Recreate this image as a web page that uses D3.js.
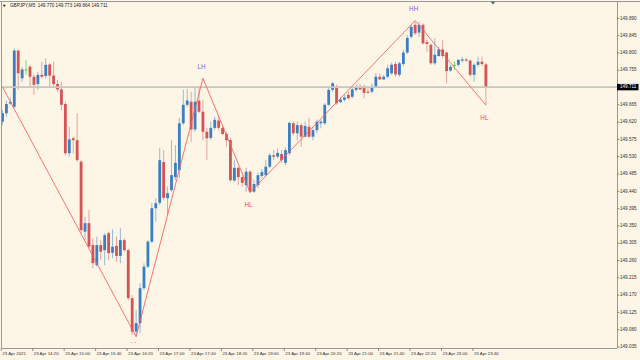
<!DOCTYPE html>
<html><head><meta charset="utf-8">
<script src="https://cdn.jsdelivr.net/npm/d3@7"></script>
<style>html,body{margin:0;padding:0;background:#fdf5e6;overflow:hidden}svg{display:block}</style>
</head><body><svg id="c" width="640" height="360"></svg>
<script>
const symbol = "GBPJPY,M5";
const headerValues = ["149.770", "149.773", "149.664", "149.711"];
const timeLabels = ["23 Apr 2021","23 Apr 14:20","23 Apr 15:00","23 Apr 15:40","23 Apr 16:20","23 Apr 17:00","23 Apr 17:40","23 Apr 18:20","23 Apr 19:00","23 Apr 19:40","23 Apr 20:20","23 Apr 21:00","23 Apr 21:40","23 Apr 22:20","23 Apr 23:00","23 Apr 23:40"];
const labelBars = [0,8,16,24,32,40,48,56,64,72,80,88,96,104,112,120];
const priceTicks = [149.890,149.845,149.800,149.755,149.710,149.665,149.620,149.575,149.530,149.485,149.440,149.395,149.350,149.305,149.260,149.215,149.170,149.125,149.080,149.035];
const lastPrice = 149.711;

const open = [
149.621,149.643,149.668,149.660,149.806,149.734,149.757,149.764,149.738,149.719,
149.743,149.740,149.770,149.741,149.719,149.705,149.667,149.539,149.578,149.573,
149.517,149.335,149.357,149.300,149.248,149.300,149.287,149.331,149.280,149.298,
149.272,149.313,149.287,149.162,149.075,149.097,149.188,149.244,149.309,149.396,
149.410,149.516,149.422,149.443,149.477,149.495,149.617,149.665,149.673,149.601,
149.676,149.647,149.595,149.579,149.605,149.624,149.605,149.589,149.573,149.468,
149.501,149.477,149.456,149.491,149.439,149.456,149.480,149.482,149.504,149.534,
149.530,149.537,149.514,149.539,149.617,149.591,149.612,149.582,149.608,149.582,
149.599,149.617,149.617,149.665,149.704,149.712,149.672,149.678,149.691,149.686,
149.704,149.711,149.712,149.699,149.699,149.712,149.738,149.731,149.738,149.747,
149.771,149.743,149.771,149.801,149.842,149.873,149.853,149.873,149.828,149.821,
149.773,149.792,149.809,149.801,149.754,149.769,149.769,149.780,149.783,149.780,
149.743,149.769,149.777,149.770];
const high = [
149.651,149.676,149.683,149.812,149.808,149.764,149.782,149.769,149.743,149.751,
149.777,149.786,149.773,149.777,149.730,149.725,149.673,149.608,149.582,149.643,
149.521,149.374,149.391,149.318,149.322,149.313,149.331,149.335,149.341,149.322,
149.344,149.318,149.290,149.170,149.131,149.201,149.253,149.313,149.409,149.422,
149.552,149.547,149.452,149.573,149.560,149.631,149.704,149.706,149.699,149.709,
149.712,149.678,149.605,149.621,149.634,149.634,149.612,149.595,149.579,149.521,
149.504,149.482,149.501,149.495,149.469,149.488,149.498,149.521,149.539,149.547,
149.552,149.547,149.555,149.621,149.621,149.621,149.617,149.621,149.631,149.606,
149.626,149.626,149.669,149.712,149.725,149.717,149.685,149.691,149.699,149.712,
149.717,149.719,149.717,149.708,149.721,149.747,149.747,149.743,149.769,149.775,
149.777,149.777,149.808,149.847,149.873,149.881,149.881,149.877,149.835,149.825,
149.838,149.816,149.834,149.803,149.769,149.777,149.783,149.790,149.786,149.783,
149.773,149.790,149.790,149.773];
const low = [
149.612,149.634,149.665,149.656,149.704,149.725,149.743,149.712,149.691,149.704,
149.734,149.734,149.712,149.708,149.699,149.651,149.534,149.530,149.539,149.517,
149.331,149.313,149.292,149.240,149.244,149.261,149.248,149.261,149.266,149.257,
149.253,149.283,149.157,149.066,149.062,149.071,149.183,149.240,149.305,149.361,
149.404,149.417,149.378,149.439,149.469,149.475,149.612,149.659,149.569,149.595,
149.644,149.573,149.521,149.573,149.599,149.599,149.586,149.556,149.465,149.465,
149.456,149.452,149.439,149.436,149.436,149.449,149.475,149.478,149.500,149.521,
149.526,149.514,149.508,149.534,149.586,149.573,149.556,149.581,149.579,149.573,
149.591,149.604,149.612,149.662,149.699,149.665,149.669,149.673,149.678,149.682,
149.699,149.704,149.682,149.695,149.695,149.708,149.730,149.730,149.734,149.743,
149.738,149.738,149.766,149.797,149.838,149.847,149.842,149.821,149.803,149.769,
149.769,149.790,149.786,149.721,149.751,149.756,149.764,149.775,149.777,149.738,
149.725,149.764,149.766,149.664];
const close = [
149.643,149.667,149.672,149.806,149.747,149.757,149.757,149.738,149.717,149.743,
149.738,149.769,149.741,149.719,149.705,149.665,149.539,149.575,149.573,149.521,
149.339,149.357,149.296,149.253,149.300,149.283,149.326,149.279,149.296,149.272,
149.313,149.287,149.162,149.075,149.097,149.188,149.244,149.309,149.396,149.409,
149.521,149.423,149.435,149.482,149.514,149.617,149.665,149.676,149.601,149.673,
149.647,149.595,149.578,149.605,149.626,149.605,149.589,149.573,149.469,149.501,
149.477,149.462,149.491,149.439,149.459,149.482,149.490,149.504,149.534,149.530,
149.540,149.521,149.547,149.618,149.591,149.612,149.582,149.610,149.582,149.599,
149.621,149.621,149.665,149.704,149.721,149.669,149.679,149.684,149.682,149.705,
149.710,149.705,149.696,149.696,149.712,149.738,149.731,149.738,149.760,149.769,
149.744,149.773,149.801,149.839,149.868,149.851,149.873,149.825,149.823,149.773,
149.795,149.809,149.792,149.753,149.764,149.769,149.782,149.783,149.780,149.743,
149.769,149.777,149.771,149.711];

const zigBars = [0, 34, 51, 63, 105, 123];
const zigPrices = [149.711, 149.062, 149.734, 149.437, 149.884, 149.664];
const zigLabels = ["", "LL", "LH", "HL", "HH", "HL"];

const W = 640, H = 360;
const plot = {left: 2, top: 2, right: 617, bottom: 348};
const bars = open.map((o, i) => ({i, o, h: high[i], l: low[i], c: close[i]}));

const x = d3.scaleLinear().domain([0, bars.length - 1]).range([2.5, 485.9]);
const y = d3.scaleLinear().domain([149.890, 149.035]).range([18.3, 347]);

const svg = d3.select("#c");
svg.append("rect").attr("width", W).attr("height", H).attr("fill", "#fdf5e6");

const defs = svg.append("defs");
defs.append("clipPath").attr("id", "plotclip").append("rect")
  .attr("x", plot.left).attr("y", plot.top)
  .attr("width", plot.right - plot.left).attr("height", 343 - plot.top);

const FONT = "'Liberation Sans', Arial, sans-serif";
const BLUE = "#3a7ec3", RED = "#d65353", DOJI = "#3fd63f";

// frame
const frame = svg.append("g").attr("fill", "none").attr("stroke", "#9a9a9a").attr("shape-rendering", "crispEdges");
frame.append("line").attr("x1", 1.5).attr("x2", 1.5).attr("y1", plot.top).attr("y2", plot.bottom).attr("stroke-width", 1.5);
frame.append("line").attr("x1", 0).attr("x2", W).attr("y1", 1.5).attr("y2", 1.5);
frame.append("line").attr("x1", plot.right + 0.5).attr("x2", plot.right + 0.5).attr("y1", plot.top).attr("y2", plot.bottom);
frame.append("line").attr("x1", plot.left).attr("x2", plot.right).attr("y1", plot.bottom + 0.5).attr("y2", plot.bottom + 0.5);

// shift marker
svg.append("path").attr("d", d3.line()([[490.5, 1.5], [495.5, 1.5], [493, 4.5]]) + "Z").attr("fill", "#5a6a7a");

// candles
const g = svg.append("g").attr("clip-path", "url(#plotclip)");
const colorOf = d => d.c > d.o ? BLUE : (d.c < d.o ? RED : DOJI);
g.selectAll("line.wick").data(bars).join("line").attr("class", "wick")
  .attr("x1", d => x(d.i)).attr("x2", d => x(d.i))
  .attr("y1", d => y(d.h)).attr("y2", d => y(d.l))
  .attr("stroke", colorOf).attr("stroke-width", 1).attr("stroke-opacity", d => d.c === d.o ? 0.7 : 0.5);
g.selectAll("rect.body").data(bars).join("rect").attr("class", "body")
  .attr("x", d => x(d.i) - 1.4).attr("width", 2.8)
  .attr("y", d => y(Math.max(d.o, d.c)))
  .attr("height", d => Math.max(1, Math.abs(y(d.o) - y(d.c))))
  .attr("fill", colorOf);

// bid line
g.append("line").attr("x1", plot.left).attr("x2", plot.right)
  .attr("y1", y(lastPrice)).attr("y2", y(lastPrice))
  .attr("stroke", "#c9c6c0").attr("stroke-width", 1.6);

// zigzag
const zig = zigBars.map((b, j) => ({b, p: zigPrices[j], t: zigLabels[j]}));
g.append("path").datum(zig)
  .attr("d", d3.line().x(d => x(d.b)).y(d => y(d.p)))
  .attr("fill", "none").attr("stroke", "#ff5c5c").attr("stroke-width", 1).attr("stroke-opacity", 0.85);

g.selectAll("text.zl").data(zig.filter(d => d.t)).join("text").attr("class", "zl")
  .attr("x", d => x(d.b) - 1.5)
  .attr("y", d => d.t.endsWith("H") ? y(d.p) - 11 : Math.min(y(d.p) + 13, plot.bottom - 3))
  .attr("text-anchor", "middle").attr("dominant-baseline", "middle")
  .attr("font-family", FONT).attr("font-size", 6.3)
  .attr("fill", d => d.t.endsWith("H") ? "#7466e8" : "#ff4545")
  .text(d => d.t);

// price axis
const yAxis = svg.append("g");
yAxis.selectAll("line").data(priceTicks).join("line")
  .attr("x1", plot.right).attr("x2", plot.right + 2.5)
  .attr("y1", d => y(d)).attr("y2", d => y(d))
  .attr("stroke", "#777").attr("stroke-width", 0.8);
yAxis.selectAll("text").data(priceTicks).join("text")
  .attr("x", plot.right + 3).attr("y", d => y(d))
  .attr("dominant-baseline", "middle")
  .attr("font-family", FONT).attr("font-size", 4.6).attr("fill", "#333")
  .text(d => d3.format(".3f")(d));

// current price box
svg.append("rect").attr("x", plot.right).attr("y", y(lastPrice) - 3.2)
  .attr("width", 21.5).attr("height", 6.4).attr("fill", "#000");
svg.append("text").attr("x", plot.right + 3).attr("y", y(lastPrice))
  .attr("dominant-baseline", "middle").attr("font-family", FONT).attr("font-size", 4.6)
  .attr("fill", "#fff").text(d3.format(".3f")(lastPrice));

// time axis
const xAxis = svg.append("g");
xAxis.selectAll("line").data(labelBars).join("line")
  .attr("x1", d => x(d) - 1.2).attr("x2", d => x(d) - 1.2)
  .attr("y1", plot.bottom).attr("y2", plot.bottom + 3)
  .attr("stroke", "#777").attr("stroke-width", 0.8);
xAxis.selectAll("text").data(labelBars).join("text")
  .attr("x", d => x(d) - 0.2).attr("y", 354)
  .attr("dominant-baseline", "middle")
  .attr("font-family", FONT).attr("font-size", 4.4).attr("fill", "#333")
  .text((d, j) => timeLabels[j]);

// header
svg.append("path").attr("d", d3.line()([[2.8, 4.8], [5.8, 4.8], [4.3, 7]]) + "Z").attr("fill", "#222");
svg.append("text").attr("x", 10).attr("y", 6)
  .attr("dominant-baseline", "middle").attr("font-family", FONT).attr("font-size", 4.6)
  .attr("fill", "#222").attr("xml:space", "preserve")
  .text(symbol + "  " + headerValues.join(" "));
</script>
</body></html>
